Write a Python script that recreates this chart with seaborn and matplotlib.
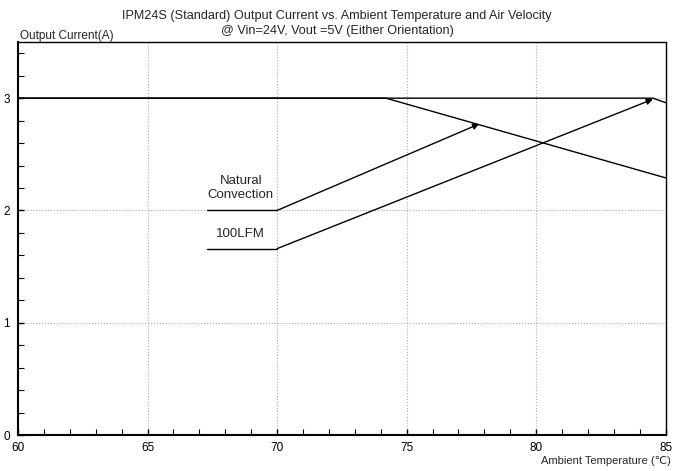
import numpy as np
import pandas as pd
import matplotlib
matplotlib.use("Agg")
import matplotlib.pyplot as plt
from matplotlib.ticker import MultipleLocator
import seaborn as sns

# Curvas de derating
temp_nc = [60, 74.2, 85]
corr_nc = [3.0, 3.0, 2.29]
temp_lfm = [60, 84.5, 85]
corr_lfm = [3.0, 3.0, 2.96]

# Líneas de etiqueta + flecha
etiquetas = ["Natural\nConvection", "100LFM"]
lbl_x = [67.3, 70.0]
lbl_y = [2.0, 1.66]
flecha_fin_x = [77.8, 84.5]
flecha_fin_y = [2.77, 2.99]

sns.set_theme(style="white")
plt.rcParams["font.family"] = ["Liberation Sans", "DejaVu Sans"]

df = pd.concat([
    pd.DataFrame({"temp": temp_nc, "corr": corr_nc, "serie": "Natural Convection"}),
    pd.DataFrame({"temp": temp_lfm, "corr": corr_lfm, "serie": "100LFM"}),
])

fig = plt.figure(figsize=(6.74, 4.71), dpi=100)
ax = fig.add_axes([0.0267, 0.0764, 0.961, 0.8344])

sns.lineplot(data=df, x="temp", y="corr", units="serie", estimator=None,
             color="black", lw=1.0, ax=ax, legend=False, sort=False)

for i, txt in enumerate(etiquetas):
    ax.plot(lbl_x, [lbl_y[i], lbl_y[i]], color="black", lw=1.0)
    ax.annotate("", xy=(flecha_fin_x[i], flecha_fin_y[i]), xytext=(lbl_x[1], lbl_y[i]),
                arrowprops=dict(arrowstyle="-|>", color="black", lw=1.0,
                                mutation_scale=9, shrinkA=0, shrinkB=0))
    ax.text(np.mean(lbl_x) - 0.05, lbl_y[i] + 0.08, txt, ha="center", va="bottom",
            fontsize=9.5, linespacing=1.3)

ax.set_xlim(60, 85)
ax.set_ylim(0, 3.5)
ax.xaxis.set_major_locator(MultipleLocator(5))
ax.xaxis.set_minor_locator(MultipleLocator(1))
ax.yaxis.set_major_locator(MultipleLocator(1))
ax.yaxis.set_minor_locator(MultipleLocator(0.2))
ax.tick_params(which="both", direction="in", colors="black", labelsize=8.5,
               bottom=True, left=True, top=False, right=False)
ax.tick_params(which="major", length=4, width=1)
ax.tick_params(which="minor", length=4, width=0.8)
ax.tick_params(axis="y", pad=6)
ax.tick_params(axis="x", pad=5)
ax.grid(True, which="major", color="#aaaaaa", ls=":", lw=0.8)
for s in ax.spines.values():
    s.set_color("black")
    s.set_linewidth(1.0)
ax.spines["left"].set_linewidth(1.5)
ax.spines["bottom"].set_linewidth(1.5)
ax.set_xlabel("")
ax.set_ylabel("")

fig.text(0.5, 0.967, "IPM24S (Standard) Output Current vs. Ambient Temperature and Air Velocity",
         ha="center", va="center", fontsize=9.1)
fig.text(0.5, 0.934, "@ Vin=24V, Vout =5V (Either Orientation)",
         ha="center", va="center", fontsize=9.1)
fig.text(0.03, 0.924, "Output Current(A)", ha="left", va="center", fontsize=8.5)
fig.text(0.995, 0.021, "Ambient Temperature (℃)", ha="right", va="center", fontsize=8)

plt.savefig("out.png", dpi=100)
plt.close()
